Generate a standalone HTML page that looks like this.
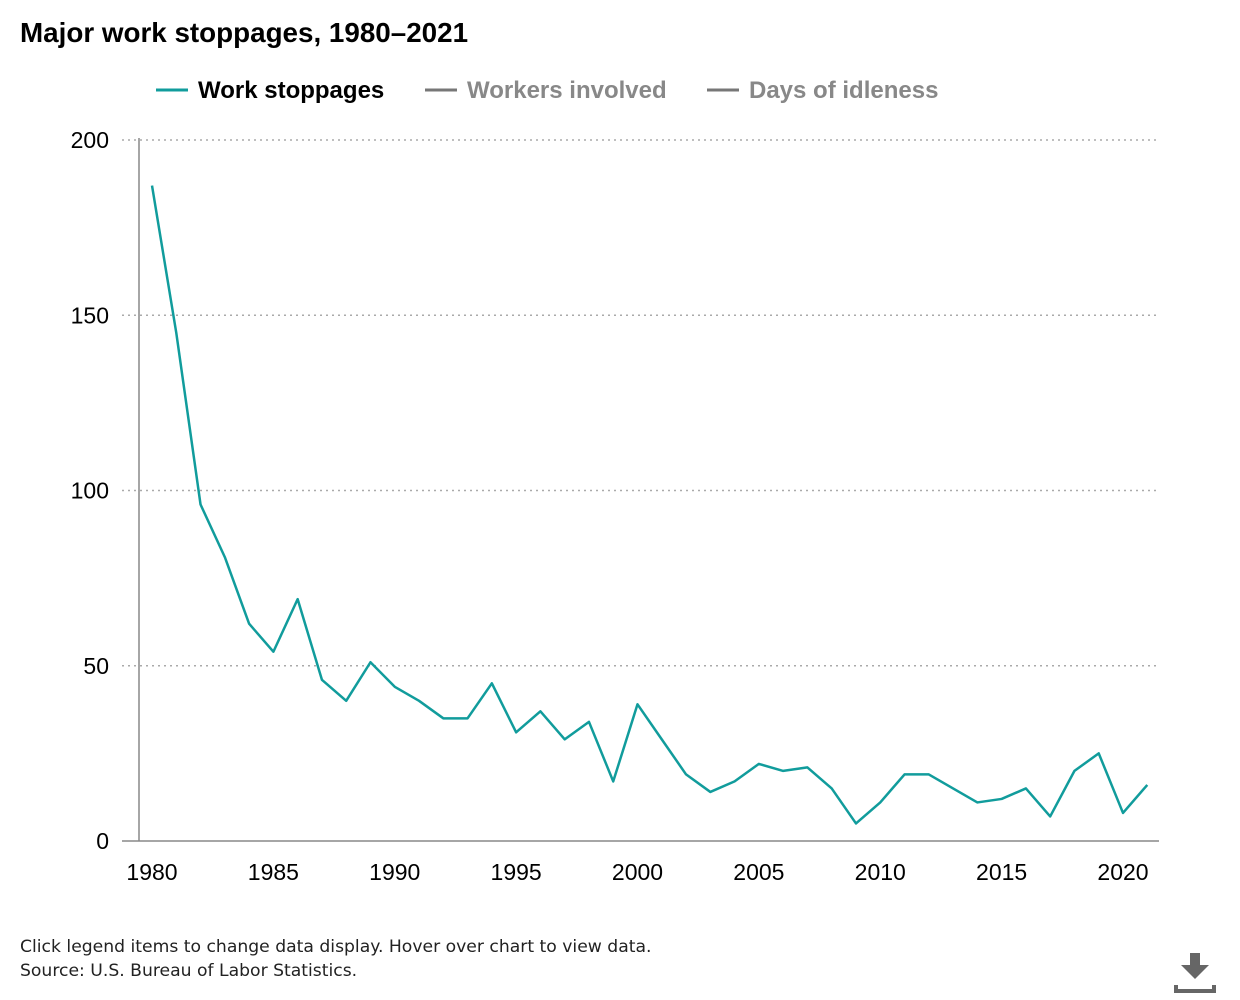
<!DOCTYPE html>
<html><head><meta charset="utf-8"><style>
body{margin:0;width:1240px;height:1000px;background:#fff;font-family:"Liberation Sans",Arial,sans-serif;position:relative;overflow:hidden}
.t{position:absolute;left:20px;top:17px;font-size:27.8px;font-weight:bold;color:#000}
.f{position:absolute;left:20px;font-size:17.2px;color:#222;font-family:"DejaVu Sans",sans-serif}
</style></head><body>
<div class="t">Major work stoppages, 1980–2021</div>
<svg width="1240" height="1000" style="position:absolute;left:0;top:0">
<g font-size="24" font-weight="bold" font-family="Liberation Sans,Arial,sans-serif">
<g><line x1="156" y1="90" x2="188" y2="90" stroke="#119c9c" stroke-width="3"/><text x="198" y="98" fill="#000">Work stoppages</text></g>
<g><line x1="425" y1="90" x2="457" y2="90" stroke="#777" stroke-width="3"/><text x="467" y="98" fill="#888">Workers involved</text></g>
<g><line x1="707" y1="90" x2="739" y2="90" stroke="#777" stroke-width="3"/><text x="749" y="98" fill="#888">Days of idleness</text></g>
</g>
<g id="grid"></g><g id="axes"></g><path id="line" fill="none" stroke="#119c9c" stroke-width="2.5" stroke-linejoin="round"/>
<g fill="#666"><rect x="1190" y="953" width="10" height="12"/><polygon points="1181,965 1209,965 1195,979"/><rect x="1174" y="985" width="4" height="8"/><rect x="1212" y="985" width="4" height="8"/><rect x="1174" y="989" width="42" height="4"/></g>
</svg>
<div class="f" style="top:937px">Click legend items to change data display. Hover over chart to view data.</div>
<div class="f" style="top:961px">Source: U.S. Bureau of Labor Statistics.</div>
<script>
const years=[1980,1981,1982,1983,1984,1985,1986,1987,1988,1989,1990,1991,1992,1993,1994,1995,1996,1997,1998,1999,2000,2001,2002,2003,2004,2005,2006,2007,2008,2009,2010,2011,2012,2013,2014,2015,2016,2017,2018,2019,2020,2021];
const stoppages=[187,145,96,81,62,54,69,46,40,51,44,40,35,35,45,31,37,29,34,17,39,29,19,14,17,22,20,21,15,5,11,19,19,15,11,12,15,7,20,25,8,16];
const yTicks=[0,50,100,150,200];
const xTicks=[1980,1985,1990,1995,2000,2005,2010,2015,2020];
const NS="http://www.w3.org/2000/svg";
const X=v=>152+(v-1980)*24.275, Y=v=>841-v*3.505;
const grid=document.getElementById('grid'),axes=document.getElementById('axes');
function mk(tag,attrs,parent){const e=document.createElementNS(NS,tag);for(const k in attrs)e.setAttribute(k,attrs[k]);parent.appendChild(e);return e;}
yTicks.forEach(v=>{
 if(v>0){const g=mk('line',{x1:122,x2:1159,y1:Y(v),y2:Y(v),stroke:'#aaa','stroke-width':1.5,'stroke-dasharray':'2,4'},grid);
 
 }
 else{mk('line',{x1:122,x2:139,y1:Y(v),y2:Y(v),stroke:'#888','stroke-width':1.5},axes);}
 const t=mk('text',{x:109,y:Y(v)+8,'text-anchor':'end','font-size':23,fill:'#000'},axes);t.textContent=v;
 
 
});
const ya=mk('line',{x1:139,x2:139,y1:138,y2:841,stroke:'#888','stroke-width':1.5},axes);


const xa=mk('line',{x1:139,x2:1159,y1:841,y2:841,stroke:'#888','stroke-width':1.5},axes);


xTicks.forEach(v=>{const t=mk('text',{x:X(v),y:880,'text-anchor':'middle','font-size':23,fill:'#000'},axes);t.textContent=v;
 
 });
document.getElementById('line').setAttribute('d',years.map((y,i)=>(i?'L':'M')+X(y)+','+Y(stoppages[i])).join(''));
</script>
</body></html>
